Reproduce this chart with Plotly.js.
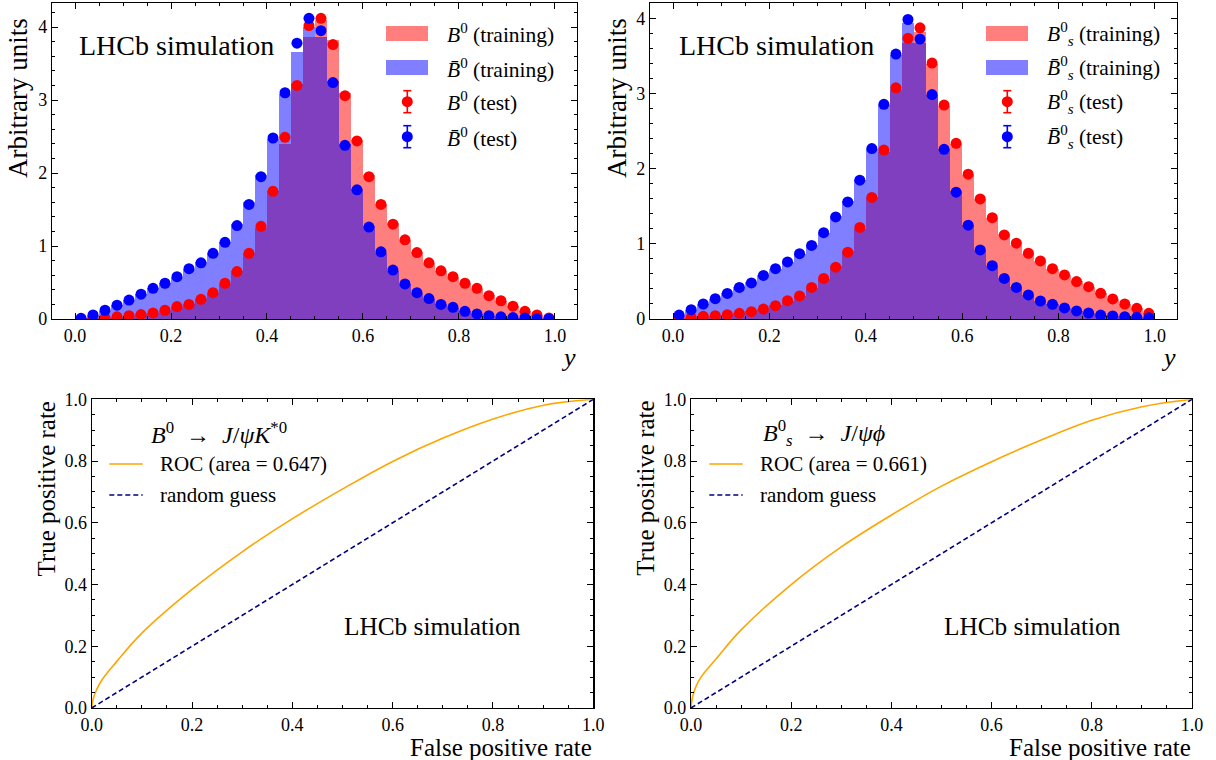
<!DOCTYPE html>
<html><head><meta charset="utf-8">
<script src="https://cdn.plot.ly/plotly-3.0.1.min.js"></script>
<style>html,body{margin:0;padding:0;background:#fff}</style>
</head><body>
<div id="chart" style="width:1216px;height:760px"></div>
<script>
// ---------- data ----------
const binCenters = [0.0125,0.0375,0.0625,0.0875,0.1125,0.1375,0.1625,0.1875,0.2125,0.2375,
  0.2625,0.2875,0.3125,0.3375,0.3625,0.3875,0.4125,0.4375,0.4625,0.4875,
  0.5125,0.5375,0.5625,0.5875,0.6125,0.6375,0.6625,0.6875,0.7125,0.7375,
  0.7625,0.7875,0.8125,0.8375,0.8625,0.8875,0.9125,0.9375,0.9625,0.9875];

// B0 -> J/psi K*0
const b0Train = [0.004,0.008,0.018,0.03,0.045,0.062,0.085,0.115,0.16,0.21,0.27,0.36,0.48,0.66,0.91,1.25,1.76,2.40,3.22,3.87,
  4.10,3.82,3.10,2.45,1.97,1.58,1.31,1.08,0.92,0.77,0.66,0.57,0.49,0.41,0.33,0.25,0.18,0.11,0.06,0.016];
const b0barTrain = [0.012,0.05,0.115,0.19,0.26,0.34,0.42,0.50,0.58,0.68,0.78,0.90,1.06,1.30,1.60,1.98,2.47,3.08,3.66,4.00,
  3.87,3.26,2.40,1.78,1.27,0.91,0.66,0.48,0.36,0.27,0.20,0.15,0.105,0.07,0.045,0.03,0.02,0.012,0.006,0.003];
const b0Test = [0.003,0.005,0.015,0.03,0.046,0.06,0.083,0.12,0.17,0.20,0.27,0.36,0.49,0.65,0.90,1.27,1.75,2.49,3.20,4.02,
  4.12,3.76,3.06,2.44,1.95,1.57,1.30,1.085,0.91,0.77,0.66,0.58,0.49,0.42,0.32,0.25,0.175,0.105,0.055,0.014];
const b0barTest = [0.01,0.055,0.12,0.19,0.26,0.34,0.42,0.49,0.58,0.69,0.77,0.90,1.05,1.28,1.57,1.95,2.48,3.10,3.78,4.12,
  3.95,3.24,2.38,1.77,1.26,0.92,0.67,0.48,0.36,0.28,0.20,0.16,0.105,0.07,0.046,0.03,0.02,0.014,0.005,0.005];

// Bs0 -> J/psi phi
const bsTrain = [0.006,0.02,0.035,0.046,0.06,0.078,0.10,0.135,0.18,0.24,0.31,0.41,0.53,0.70,0.90,1.20,1.63,2.22,3.05,3.68,
  3.82,3.40,2.84,2.33,1.92,1.60,1.34,1.13,0.99,0.87,0.77,0.67,0.58,0.50,0.43,0.34,0.27,0.20,0.14,0.075];
const bsbarTrain = [0.05,0.12,0.20,0.27,0.34,0.42,0.49,0.58,0.67,0.76,0.87,0.99,1.15,1.37,1.57,1.85,2.27,2.85,3.52,3.94,
  3.68,2.98,2.26,1.70,1.25,0.92,0.71,0.54,0.42,0.32,0.245,0.195,0.145,0.107,0.08,0.053,0.04,0.03,0.022,0.017];
const bsTest = [0.005,0.022,0.036,0.044,0.058,0.076,0.098,0.133,0.178,0.244,0.307,0.42,0.54,0.69,0.89,1.22,1.62,2.25,3.08,3.74,
  3.88,3.41,2.85,2.34,1.93,1.60,1.35,1.12,1.01,0.876,0.773,0.67,0.587,0.498,0.431,0.342,0.267,0.20,0.142,0.076];
const bsbarTest = [0.053,0.124,0.20,0.27,0.34,0.42,0.48,0.58,0.67,0.76,0.87,0.98,1.15,1.36,1.56,1.85,2.27,2.86,3.53,3.99,
  3.73,2.99,2.26,1.69,1.25,0.92,0.71,0.54,0.42,0.32,0.24,0.196,0.147,0.107,0.08,0.053,0.04,0.031,0.022,0.018];

// ROC curves
const rocFprB0 = [0,0.003,0.01,0.02,0.048,0.101,0.2,0.3,0.402,0.505,0.604,0.703,0.802,0.901,1];
const rocTprB0 = [0,0.03,0.06,0.09,0.147,0.244,0.384,0.506,0.615,0.714,0.802,0.876,0.937,0.981,1];
const rocFprBs = [0,0.003,0.01,0.02,0.052,0.1,0.2,0.3,0.401,0.499,0.6,0.699,0.8,0.898,1];
const rocTprBs = [0,0.035,0.07,0.1,0.163,0.253,0.400,0.522,0.626,0.718,0.798,0.868,0.932,0.975,1];
const guessX = [0,1];
const guessY = [0,1];

const aucB0 = "0.647", aucBs = "0.661";

// ---------- helpers ----------
const W = 1216, H = 760;
const px = v => v / W;
const py = v => 1 - v / H;
const FONT = "Liberation Serif";
const RED_A = "rgba(255,0,0,0.5)", BLUE_A = "rgba(0,0,255,0.5)";

function hist(x, y, color, xa, ya) {
  return {type:"bar", x:x, y:y, width:0.025, marker:{color:color, line:{width:0}},
          xaxis:xa, yaxis:ya, showlegend:false, hoverinfo:"skip"};
}
function dots(x, y, color, xa, ya) {
  return {type:"scatter", mode:"markers", x:x, y:y, marker:{color:color, size:11},
          xaxis:xa, yaxis:ya, showlegend:false, hoverinfo:"skip"};
}
function roc(x, y, xa, ya) {
  return {type:"scatter", mode:"lines", x:x, y:y, line:{color:"#ffa500", width:1.6, shape:"spline", smoothing:1.1},
          xaxis:xa, yaxis:ya, showlegend:false, hoverinfo:"skip"};
}
function guess(xa, ya) {
  return {type:"scatter", mode:"lines", x:guessX, y:guessY, line:{color:"#000080", width:1.6, dash:"5px,3px"},
          xaxis:xa, yaxis:ya, showlegend:false, hoverinfo:"skip"};
}

const traces = [
  hist(binCenters, b0Train, RED_A, "x", "y"),
  hist(binCenters, b0barTrain, BLUE_A, "x", "y"),
  dots(binCenters, b0Test, "#ff0000", "x", "y"),
  dots(binCenters, b0barTest, "#0000ff", "x", "y"),
  hist(binCenters, bsTrain, RED_A, "x2", "y2"),
  hist(binCenters, bsbarTrain, BLUE_A, "x2", "y2"),
  dots(binCenters, bsTest, "#ff0000", "x2", "y2"),
  dots(binCenters, bsbarTest, "#0000ff", "x2", "y2"),
  roc(rocFprB0, rocTprB0, "x3", "y3"),
  guess("x3", "y3"),
  roc(rocFprBs, rocTprBs, "x4", "y4"),
  guess("x4", "y4")
];

function axis(domain, range, dtick, minorDtick, fmt, anchor) {
  return {domain:domain, range:range, anchor:anchor, dtick:dtick, tick0:0, tickformat:fmt,
    ticks:"inside", ticklen:6, tickwidth:1, tickcolor:"#000", mirror:"allticks",
    showline:true, linecolor:"#000", linewidth:1.2, showgrid:false, zeroline:false,
    tickfont:{family:FONT, size:18, color:"#000"},
    minor:{dtick:minorDtick, ticks:"inside", ticklen:3, tickwidth:1, tickcolor:"#000", showgrid:false}};
}

const layout = {
  width:W, height:H, margin:{l:0,r:0,t:0,b:0}, paper_bgcolor:"#fff", plot_bgcolor:"#fff",
  barmode:"overlay", bargap:0, showlegend:false,
  font:{family:FONT, color:"#000"},
  xaxis: axis([px(52),px(577)], [-0.048,1.046], 0.2, 0.05, ".1f", "y"),
  yaxis: axis([py(319),py(3)], [0,4.33], 1, 0.2, "d", "x"),
  xaxis2: axis([px(650),px(1177)], [-0.048,1.046], 0.2, 0.05, ".1f", "y2"),
  yaxis2: axis([py(319),py(3)], [0,4.21], 1, 0.2, "d", "x2"),
  xaxis3: axis([px(91.7),px(593.3)], [0,1], 0.2, 0.05, ".1f", "y3"),
  yaxis3: axis([py(708),py(399.3)], [0,1], 0.2, 0.05, ".1f", "x3"),
  xaxis4: axis([px(691),px(1192)], [0,1], 0.2, 0.05, ".1f", "y4"),
  yaxis4: axis([py(708),py(399.3)], [0,1], 0.2, 0.05, ".1f", "x4"),
  annotations:[], shapes:[]
};

function ann(text, x, y, size, xanchor, extra) {
  return Object.assign({text:text, xref:"paper", yref:"paper", x:px(x), y:py(y), showarrow:false,
    xanchor:xanchor, yanchor:"middle", font:{family:FONT, size:size, color:"#000"}}, extra || {});
}
function rect(x0, y0, x1, y1, color) {
  return {type:"rect", xref:"paper", yref:"paper", x0:px(x0), x1:px(x1), y0:py(y1), y1:py(y0),
          fillcolor:color, line:{width:0}, layer:"above"};
}
function seg(x0, y0, x1, y1, color, width, dash) {
  return {type:"line", xref:"paper", yref:"paper", x0:px(x0), x1:px(x1), y0:py(y0), y1:py(y1),
          line:{color:color, width:width, dash:dash || "solid"}, layer:"above"};
}
function circ(cx, cy, r, color) {
  return {type:"circle", xref:"paper", yref:"paper", x0:px(cx-r), x1:px(cx+r), y0:py(cy+r), y1:py(cy-r),
          fillcolor:color, line:{width:0}, layer:"above"};
}
function errMarker(cx, cy, color) {
  return [seg(cx, cy-11, cx, cy+11, color, 1.6), seg(cx-4, cy-11, cx+4, cy-11, color, 1.6),
          seg(cx-4, cy+11, cx+4, cy+11, color, 1.6), circ(cx, cy, 5.5, color)];
}

// top panels: labels, legends
const B0 = "<i>B</i><sup>0</sup>", B0bar = "<i>B\u0304</i><sup>0</sup>";
const Bs = "<i>B</i><sup>0</sup><sub><i>s</i></sub>", Bsbar = "<i>B\u0304</i><sup>0</sup><sub><i>s</i></sub>";
[[0, B0, B0bar],[600, Bs, Bsbar]].forEach(([dx, lab, labBar]) => {
  layout.annotations.push(
    ann("LHCb simulation", 77+dx, 45, 28, "left"),
    ann(lab + " (training)", 445+dx, 33.5, 21.5, "left"),
    ann(labBar + " (training)", 445+dx, 68, 21.5, "left"),
    ann(lab + " (test)", 445+dx, 102, 21.5, "left"),
    ann(labBar + " (test)", 445+dx, 137, 21.5, "left")
  );
  layout.shapes.push(rect(386+dx, 26, 428+dx, 41, RED_A), rect(386+dx, 60, 428+dx, 75, BLUE_A));
  layout.shapes.push(...errMarker(407.3+dx, 101.7, "#ff0000"), ...errMarker(407.3+dx, 136.7, "#0000ff"));
});
layout.annotations.push(
  ann("Arbitrary units", 18, 16, 27, "center", {textangle:-90, yanchor:"top"}),
  ann("Arbitrary units", 617, 16, 27, "center", {textangle:-90, yanchor:"top"}),
  ann("<i>y</i>", 578, 357, 26, "right"),
  ann("<i>y</i>", 1178, 357, 26, "right")
);

// bottom panels
[[0, 149, "<i>B</i><sup>0</sup>  \u2192  <i>J</i>/<i>\u03c8K</i><sup>*0</sup>", aucB0, 91.7, 593],
 [600, 761, "<i>B</i><sup>0</sup><sub><i>s</i></sub>  \u2192  <i>J</i>/<i>\u03c8\u03d5</i>", aucBs, 691, 1192]].forEach(([dx, tx, title, auc, left, right]) => {
  layout.annotations.push(
    ann(title, tx, 433, 24, "left"),
    ann("ROC (area = " + auc + ")", 158+dx, 464, 21, "left"),
    ann("random guess", 158+dx, 495, 21, "left"),
    ann("LHCb simulation", 342+dx, 626, 25.3, "left"),
    ann("True positive rate", left-45, 399.3, 25, "center", {textangle:-90, yanchor:"top"}),
    ann("False positive rate", right+1, 747, 25, "right")
  );
  layout.shapes.push(seg(109.3+dx, 464, 142.7+dx, 464, "#ffa500", 1.6),
                     seg(109.3+dx, 495, 142.7+dx, 495, "#000080", 1.6, "5px,3px"));
});

Plotly.newPlot("chart", traces, layout, {staticPlot:true, displayModeBar:false});
</script>
</body></html>
